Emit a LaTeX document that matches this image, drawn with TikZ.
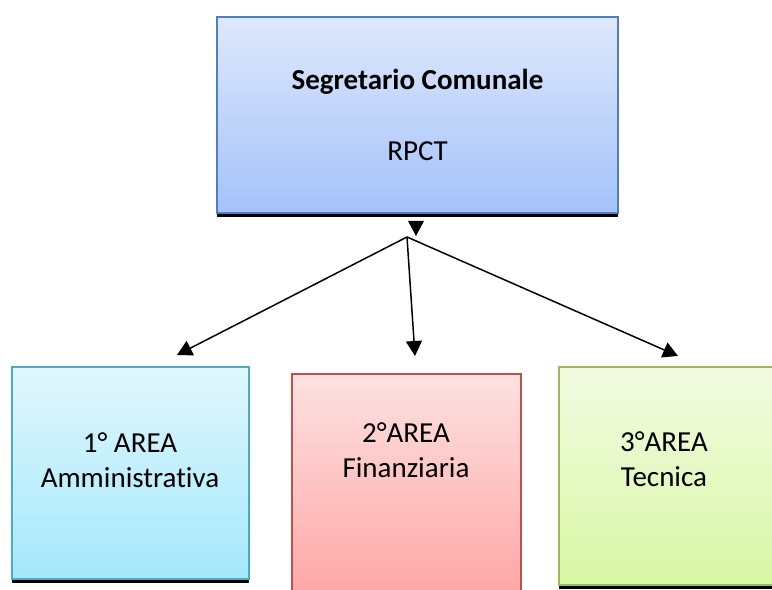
\documentclass[tikz,border=0pt]{standalone}
\usepackage{fontspec}
\setmainfont{Carlito}[Ligatures=NoCommon]
\usetikzlibrary{arrows.meta,shadows}

\definecolor{segtop}{HTML}{DEE8FC}
\definecolor{segbot}{HTML}{A4C2FA}
\definecolor{segline}{HTML}{4F7FBF}
\definecolor{ammtop}{HTML}{E0F7FD}
\definecolor{ammbot}{HTML}{A4E8FB}
\definecolor{ammline}{HTML}{4BACC6}
\definecolor{fintop}{HTML}{FEE1E1}
\definecolor{finbot}{HTML}{FFA2A2}
\definecolor{finline}{HTML}{C0504D}
\definecolor{tectop}{HTML}{F2FBE2}
\definecolor{tecbot}{HTML}{D8F7A3}
\definecolor{tecline}{HTML}{9BBB59}

\tikzset{
    areabox/.style n args={3}{rectangle, draw=#1, line width=0.04cm,
        top color=#2, bottom color=#3,
        drop shadow={shadow xshift=0cm, shadow yshift=-0.09cm, opacity=1, fill=black}},
    areatext/.style={align=center, font=\fontsize{16.5}{19.8}\selectfont},
    freccia/.style={line width=0.03cm, -{Triangle[length=0.3cm, width=0.32cm]}}
}

\begin{document}
    \begin{tikzpicture}[x=0.02cm, y=-0.02cm]
        \useasboundingbox (0,0) rectangle (772,590);
        \clip (0,0) rectangle (772,590);

        % Segretario
        \node[areabox={segline}{segtop}{segbot}, minimum width=401*0.02cm, minimum height=196*0.02cm,
            areatext] (seg) at (417.5,115) {\textbf{Segretario Comunale}\\[21pt]RPCT};

        % Aree
        \node[areabox={ammline}{ammtop}{ammbot}, minimum width=237*0.02cm, minimum height=212*0.02cm] (amm) at (130.5,473) {};
        \node[areatext] (ammtxt) at (130,460) {1° AREA\\Amministrativa};

        \node[areabox={finline}{fintop}{finbot}, minimum width=229*0.02cm, minimum height=238*0.02cm] (fin) at (406.5,493) {};
        \node[areatext] (fintxt) at (406,450) {2°AREA\\Finanziaria};

        \node[areabox={tecline}{tectop}{tecbot}, minimum width=218*0.02cm, minimum height=218*0.02cm] (tec) at (668,476) {};
        \node[areatext] (tectxt) at (664,459) {3°AREA\\Tecnica};

        % Frecce
        \coordinate (nodo) at (407,237);
        \coordinate (pamm) at (177,355);
        \coordinate (pfin) at (415,356);
        \coordinate (ptec) at (678,356);
        \foreach \p in {pamm,pfin,ptec} {
            \draw[freccia] (nodo) -- (\p);
        }
        \fill (408,221) -- (424,221) -- (416,236) -- cycle;
    \end{tikzpicture}
\end{document}
